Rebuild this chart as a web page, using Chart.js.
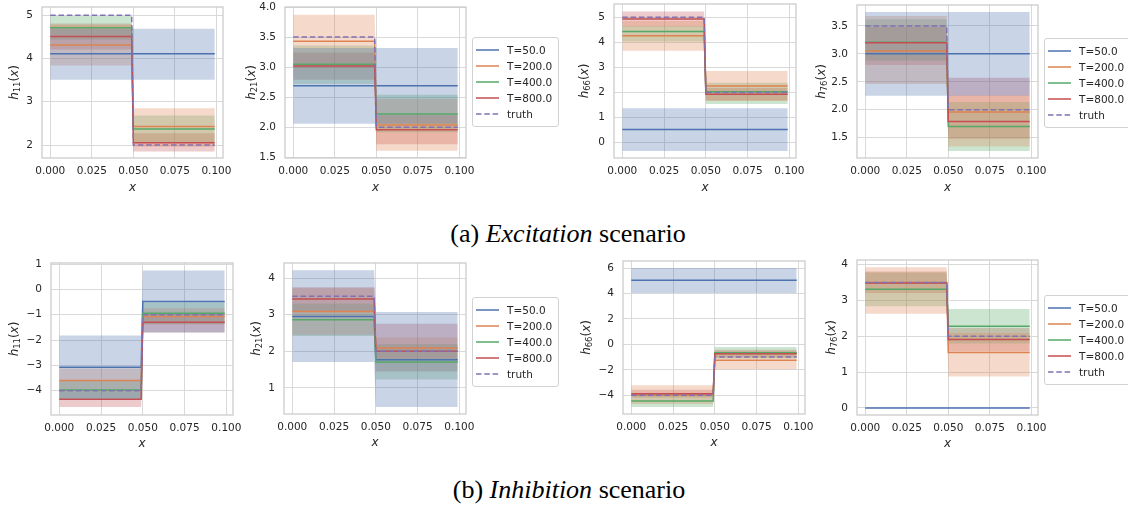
<!DOCTYPE html>
<html><head><meta charset="utf-8">
<script src="https://cdn.jsdelivr.net/npm/chart.js@4.4.1/dist/chart.umd.min.js"></script>
<style>
html,body{margin:0;padding:0;background:#fff;width:1128px;height:508px;overflow:hidden;position:relative;}
canvas{position:absolute;}
.legend{position:absolute;background:rgba(255,255,255,0.85);border:1px solid #d2d2d2;border-radius:3px;padding:4px 0;font-family:"DejaVu Sans",sans-serif;font-size:10.5px;color:#262626;box-sizing:border-box;}
.legend .row{height:16.1px;line-height:16.1px;display:flex;align-items:center;white-space:nowrap;}
.legend svg{margin-left:3px;margin-right:8px;flex:none;}
.caption{position:absolute;font-family:"Liberation Serif","Times New Roman",serif;font-size:26px;line-height:26px;color:#000;white-space:nowrap;transform:translateX(-50%);}
</style></head><body>
<script>
// ---------- data ----------
const xTicks = [0, 0.025, 0.05, 0.075, 0.1];
const seriesLabels = ['T=50.0', 'T=200.0', 'T=400.0', 'T=800.0'];
const truthLabel = 'truth';
const stepX = [0, 0.049, 0.05, 0.099];            // x of the step function samples

// each row: one series [left value, right value]
// (a) Excitation, h11
const excH11Mean = [[4.11, 4.11], [4.31, 2.43], [4.71, 2.37], [4.51, 2.05]];
const excH11Lo   = [[3.51, 3.51], [3.84, 1.96], [4.44, 2.06], [4.21, 1.85]];
const excH11Hi   = [[4.69, 4.69], [4.78, 2.85], [4.98, 2.68], [4.81, 2.27]];
const excH11Truth = [5, 2];
const excH11YTicks = [2, 3, 4, 5];
// (a) Excitation, h21
const excH21Mean = [[2.69, 2.69], [3.43, 2.04], [3.05, 2.22], [3.02, 1.96]];
const excH21Lo   = [[2.06, 2.06], [2.99, 1.61], [2.72, 1.92], [2.79, 1.72]];
const excH21Hi   = [[3.32, 3.32], [3.87, 2.47], [3.36, 2.54], [3.24, 2.20]];
const excH21Truth = [3.5, 2];
const excH21YTicks = [1.5, 2.0, 2.5, 3.0, 3.5, 4.0];
// (a) Excitation, h66
const excH66Mean = [[0.53, 0.53], [4.26, 2.26], [4.43, 2.03], [4.93, 1.93]];
const excH66Lo   = [[-0.33, -0.33], [3.67, 1.66], [4.03, 1.54], [4.63, 1.68]];
const excH66Hi   = [[1.37, 1.37], [4.85, 2.86], [4.65, 2.39], [5.23, 2.18]];
const excH66Truth = [5, 2];
const excH66YTicks = [0, 1, 2, 3, 4, 5];
// (a) Excitation, h76
const excH76Mean = [[3.0, 3.0], [3.05, 1.96], [3.21, 1.70], [3.20, 1.79]];
const excH76Lo   = [[2.25, 2.25], [2.46, 1.34], [2.88, 1.26], [2.80, 1.48]];
const excH76Hi   = [[3.75, 3.75], [3.68, 2.26], [3.62, 2.14], [3.48, 2.57]];
const excH76Truth = [3.5, 2];
const excH76YTicks = [1.5, 2.0, 2.5, 3.0, 3.5];
// (b) Inhibition, h11
const inhH11Mean = [[-3.08, -0.48], [-3.60, -1.07], [-3.97, -0.94], [-4.34, -1.30]];
const inhH11Lo   = [[-4.34, -1.70], [-4.05, -1.40], [-4.32, -1.36], [-4.64, -1.70]];
const inhH11Hi   = [[-1.82, 0.74], [-3.12, -0.75], [-3.62, -0.52], [-4.04, -0.95]];
const inhH11Truth = [-4, -1];
const inhH11YTicks = [-4, -3, -2, -1, 0, 1];
// (b) Inhibition, h21
const inhH21Mean = [[2.95, 1.77], [3.09, 2.09], [2.86, 1.71], [3.43, 2.00]];
const inhH21Lo   = [[1.71, 0.48], [2.45, 1.80], [2.42, 1.23], [3.10, 1.45]];
const inhH21Hi   = [[4.21, 3.07], [3.72, 2.38], [3.30, 2.19], [3.75, 2.75]];
const inhH21Truth = [3.5, 2];
const inhH21YTicks = [1, 2, 3, 4];
// (b) Inhibition, h66
const inhH66Mean = [[5.03, 5.03], [-3.95, -1.25], [-4.45, -0.65], [-3.87, -0.73]];
const inhH66Lo   = [[4.04, 4.04], [-4.69, -1.96], [-4.92, -1.10], [-4.17, -1.03]];
const inhH66Hi   = [[6.00, 6.00], [-3.21, -0.54], [-3.98, -0.20], [-3.57, -0.43]];
const inhH66Truth = [-4, -1];
const inhH66YTicks = [-4, -2, 0, 2, 4, 6];
// (b) Inhibition, h76
const inhH76Mean = [[0, 0], [3.50, 1.55], [3.31, 2.28], [3.49, 1.91]];
const inhH76Lo   = [[0, 0], [2.63, 0.88], [2.84, 1.80], [3.21, 1.58]];
const inhH76Hi   = [[0, 0], [3.93, 2.09], [3.78, 2.76], [3.81, 2.23]];
const inhH76Truth = [3.5, 2];
const inhH76YTicks = [0, 1, 2, 3, 4];

// ---------- styles / layout ----------
const lineColors = ['#4C72B0', '#DD8452', '#55A868', '#C44E52'];
const bandColors = ['rgba(76,114,176,0.3)', 'rgba(221,132,82,0.3)', 'rgba(85,168,104,0.3)', 'rgba(196,78,82,0.3)'];
const truthColor = '#8172B3';
const TXT = '#262626';

const panels = [
  {sub:'11', mean:excH11Mean, lo:excH11Lo, hi:excH11Hi, truth:excH11Truth, yTicks:excH11YTicks, dec:0, yMin:1.70, yMax:5.19, frame:[42,7,181,151], yOff:28, row:0},
  {sub:'21', mean:excH21Mean, lo:excH21Lo, hi:excH21Hi, truth:excH21Truth, yTicks:excH21YTicks, dec:1, yMin:1.49, yMax:4.0, frame:[285,7,181,151], yOff:34, row:0, legend:[472,37,87]},
  {sub:'66', mean:excH66Mean, lo:excH66Lo, hi:excH66Hi, truth:excH66Truth, yTicks:excH66YTicks, dec:0, yMin:-0.61, yMax:5.53, frame:[614,4,182,154], yOff:30, row:0},
  {sub:'76', mean:excH76Mean, lo:excH76Lo, hi:excH76Hi, truth:excH76Truth, yTicks:excH76YTicks, dec:1, yMin:1.135, yMax:3.875, frame:[857,5,181,153], yOff:36, row:0, legend:[1044,38,92]},
  {sub:'11', mean:inhH11Mean, lo:inhH11Lo, hi:inhH11Hi, truth:inhH11Truth, yTicks:inhH11YTicks, dec:0, yMin:-4.96, yMax:1.04, frame:[51,263,182,152], yOff:37, row:1},
  {sub:'21', mean:inhH21Mean, lo:inhH21Lo, hi:inhH21Hi, truth:inhH21Truth, yTicks:inhH21YTicks, dec:0, yMin:0.29, yMax:4.41, frame:[284,263,182,151], yOff:28, row:1, legend:[472,297,87]},
  {sub:'66', mean:inhH66Mean, lo:inhH66Lo, hi:inhH66Hi, truth:inhH66Truth, yTicks:inhH66YTicks, dec:0, yMin:-5.47, yMax:6.55, frame:[623,261,182,153], yOff:37, row:1},
  {sub:'76', mean:inhH76Mean, lo:inhH76Lo, hi:inhH76Hi, truth:inhH76Truth, yTicks:inhH76YTicks, dec:0, yMin:-0.197, yMax:4.13, frame:[857,260,181,155], yOff:26, row:1, legend:[1044,295,92]},
];

const PADL = 70, PADT = 8, PADR = 16, PADB = 45;

function stepPoints(v) { return stepX.map((x, i) => ({x, y: i < 2 ? v[0] : v[1]})); }
function fmt(v, dec) { return (v < 0 ? '\u2212' : '') + Math.abs(v).toFixed(dec); }

function makePanel(p) {
  const [fx, fy, fw, fh] = p.frame;
  const W = fw + PADL + PADR, H = fh + PADT + PADB;
  const cv = document.createElement('canvas');
  cv.width = W; cv.height = H;
  cv.style.left = (fx - PADL) + 'px'; cv.style.top = (fy - PADT) + 'px';
  cv.style.width = W + 'px'; cv.style.height = H + 'px';
  document.body.appendChild(cv);

  const datasets = [];
  // line datasets (drawn above bands)
  datasets.push({data: stepPoints(p.truth), borderColor: truthColor, borderWidth: 1.5, borderDash: [5.5, 2.8], pointRadius: 0, fill: false, order: 0, label: truthLabel});
  for (let s = 3; s >= 0; s--) {
    datasets.push({data: stepPoints(p.mean[s]), borderColor: lineColors[s], borderWidth: 1.5, pointRadius: 0, fill: false, order: 4 - s, label: seriesLabels[s]});
  }
  // band datasets (fill between hi and lo)
  for (let s = 0; s < 4; s++) {
    if (p.hi[s][0] === p.lo[s][0] && p.hi[s][1] === p.lo[s][1]) continue;
    datasets.push({data: stepPoints(p.hi[s]), borderColor: 'transparent', borderWidth: 0, pointRadius: 0, fill: false, order: 10 + s});
    datasets.push({data: stepPoints(p.lo[s]), borderColor: 'transparent', borderWidth: 0, pointRadius: 0, fill: '-1', backgroundColor: bandColors[s], order: 10 + s});
  }

  const deco = {
    id: 'deco',
    afterDatasetsDraw(chart) {
      const a = chart.chartArea, ctx = chart.ctx;
      ctx.save();
      ctx.strokeStyle = '#cccccc'; ctx.lineWidth = 1.3;
      ctx.strokeRect(a.left, a.top, a.right - a.left, a.bottom - a.top);
      ctx.restore();
    },
    afterDraw(chart) {
      const a = chart.chartArea, ctx = chart.ctx;
      ctx.save();
      ctx.fillStyle = TXT;
      ctx.font = 'italic 12px "DejaVu Sans"';
      ctx.textAlign = 'center'; ctx.textBaseline = 'middle';
      ctx.fillText('x', (a.left + a.right) / 2, a.bottom + (p.row === 0 ? 29.5 : 28.5));
      ctx.translate(a.left - p.yOff, (a.top + a.bottom) / 2);
      ctx.rotate(-Math.PI / 2);
      const parts = [
        ['h', 'italic 12px "DejaVu Sans"', 0],
        [p.sub, '8.4px "DejaVu Sans"', 2.2],
        ['(', '12px "DejaVu Sans"', 0],
        ['x', 'italic 12px "DejaVu Sans"', 0],
        [')', '12px "DejaVu Sans"', 0]];
      let total = 0;
      parts.forEach(pt => { ctx.font = pt[1]; pt.push(ctx.measureText(pt[0]).width); total += pt[3]; });
      let x = -total / 2;
      ctx.textAlign = 'left'; ctx.textBaseline = 'alphabetic';
      parts.forEach(pt => { ctx.font = pt[1]; ctx.fillText(pt[0], x, 3.8 + pt[2]); x += pt[3]; });
      ctx.restore();
    }
  };

  new Chart(cv, {
    type: 'line',
    data: {datasets},
    options: {
      responsive: false, animation: false, devicePixelRatio: 1,
      layout: {padding: {left: 0, top: PADT, right: PADR, bottom: 0}},
      plugins: {legend: {display: false}, tooltip: {enabled: false}},
      elements: {line: {tension: 0}},
      scales: {
        x: {
          type: 'linear', min: -0.00495, max: 0.10395,
          afterBuildTicks: s => { s.ticks = xTicks.map(v => ({value: v})); },
          afterFit: s => { s.height = PADB; s.paddingLeft = 0; s.paddingRight = 0; },
          ticks: {callback: v => v.toFixed(3), color: TXT, font: {family: 'DejaVu Sans', size: 10.5}, padding: 7, maxRotation: 0, autoSkip: false},
          grid: {color: '#d9d9d9', lineWidth: 1, drawTicks: false},
          border: {display: false}
        },
        y: {
          type: 'linear', min: p.yMin, max: p.yMax,
          afterBuildTicks: s => { s.ticks = p.yTicks.map(v => ({value: v})); },
          afterFit: s => { s.width = PADL; s.paddingTop = 0; s.paddingBottom = 0; },
          ticks: {callback: v => fmt(v, p.dec), color: TXT, font: {family: 'DejaVu Sans', size: 10.5}, padding: 9, autoSkip: false},
          grid: {color: '#d9d9d9', lineWidth: 1, drawTicks: false},
          border: {display: false}
        }
      }
    },
    plugins: [deco]
  });

  if (p.legend) {
    const [lx, ly, lw] = p.legend;
    const box = document.createElement('div');
    box.className = 'legend';
    box.style.left = lx + 'px'; box.style.top = ly + 'px'; box.style.width = lw + 'px';
    const items = seriesLabels.map((t, i) => [t, lineColors[i], '']).concat([[truthLabel, truthColor, '5.5,2.8']]);
    items.forEach(([t, c, dash]) => {
      const r = document.createElement('div'); r.className = 'row';
      r.innerHTML = `<svg width="23" height="6"><line x1="0" y1="3" x2="23" y2="3" stroke="${c}" stroke-width="1.5" ${dash ? `stroke-dasharray="${dash}"` : ''}/></svg><span>${t}</span>`;
      box.appendChild(r);
    });
    document.body.appendChild(box);
  }
}

panels.forEach(makePanel);

const capA = document.createElement('div');
capA.className = 'caption'; capA.style.left = '568px'; capA.style.top = '221px';
capA.innerHTML = '(a) <i>Excitation</i> scenario';
document.body.appendChild(capA);
const capB = document.createElement('div');
capB.className = 'caption'; capB.style.left = '569px'; capB.style.top = '477px';
capB.innerHTML = '(b) <i>Inhibition</i> scenario';
document.body.appendChild(capB);
</script>
</body></html>
